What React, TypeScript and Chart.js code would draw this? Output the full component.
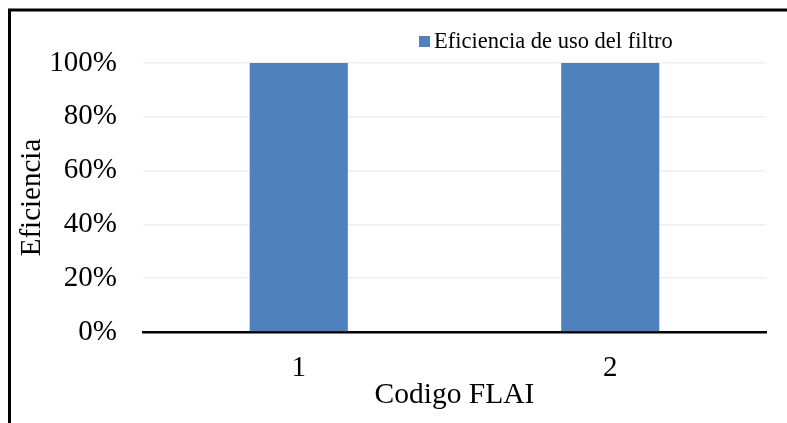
import React, { useEffect, useRef } from "react";
import { Chart, registerables } from "chart.js";

Chart.register(...registerables);

const categories: string[] = ["1", "2"];
const seriesLabel = "Eficiencia de uso del filtro";
const efficiencyValues: number[] = [100, 100];
const yTickValues: number[] = [0, 20, 40, 60, 80, 100];

const FONT = "'Liberation Serif', 'Times New Roman', serif";
const BAR_COLOR = "#4F81BD";

const framePlugin = {
  id: "frameAndLegend",
  beforeDraw(chart: any) {
    const ctx = chart.ctx;
    ctx.save();
    ctx.fillStyle = "#ffffff";
    ctx.fillRect(0, 0, chart.width, chart.height);
    ctx.strokeStyle = "#000000";
    ctx.lineWidth = 3;
    ctx.beginPath();
    ctx.moveTo(9.5, 423);
    ctx.lineTo(9.5, 10);
    ctx.lineTo(787, 10);
    ctx.stroke();
    ctx.restore();
  },
  afterDraw(chart: any) {
    const ctx = chart.ctx;
    const ds = chart.data.datasets[0];
    ctx.save();
    ctx.fillStyle = ds.backgroundColor;
    ctx.fillRect(419, 36, 11, 11);
    ctx.fillStyle = "#000000";
    ctx.font = `22.5px ${FONT}`;
    ctx.textBaseline = "middle";
    ctx.textAlign = "left";
    ctx.fillText(ds.label, 434, 42);
    ctx.restore();
  },
};

export default function App() {
  const canvasRef = useRef<HTMLCanvasElement | null>(null);

  useEffect(() => {
    if (!canvasRef.current) return;
    const chart = new Chart(canvasRef.current, {
      type: "bar",
      data: {
        labels: categories,
        datasets: [
          {
            label: seriesLabel,
            data: efficiencyValues,
            backgroundColor: BAR_COLOR,
            borderWidth: 0,
            categoryPercentage: 1,
            barPercentage: 0.315,
          },
        ],
      },
      options: {
        animation: false,
        responsive: false,
        maintainAspectRatio: false,
        layout: { padding: { top: 63, right: 21, left: 0, bottom: 0 } },
        plugins: {
          legend: { display: false },
          tooltip: { enabled: false },
        },
        scales: {
          x: {
            afterFit: (scale: any) => {
              scale.height = 91;
            },
            grid: { display: false, drawTicks: false },
            border: { display: true, color: "#000000", width: 2.5 },
            ticks: {
              color: "#000000",
              font: { family: FONT, size: 29 },
              padding: 19,
            },
            title: {
              display: true,
              text: "Codigo FLAI",
              color: "#000000",
              font: { family: FONT, size: 29.5 },
              padding: { top: 0, bottom: 10 },
            },
          },
          y: {
            min: 0,
            max: 100,
            afterFit: (scale: any) => {
              scale.width = 143;
            },
            afterBuildTicks: (scale: any) => {
              scale.ticks = yTickValues.map((v) => ({ value: v }));
            },
            grid: { color: "#efefef", lineWidth: 1.5, drawTicks: false },
            border: { display: false },
            ticks: {
              color: "#000000",
              font: { family: FONT, size: 29 },
              padding: 26,
              callback: (v: any) => `${v}%`,
            },
            title: {
              display: true,
              text: "Eficiencia",
              color: "#000000",
              font: { family: FONT, size: 29 },
              padding: { top: 15, bottom: 0 },
            },
          },
        },
      },
      plugins: [framePlugin],
    });
    return () => chart.destroy();
  }, []);

  return (
    <div style={{ position: "absolute", left: 0, top: 0, width: 787, height: 423 }}>
      <canvas ref={canvasRef} width={787} height={423} style={{ width: 787, height: 423 }} />
    </div>
  );
}
